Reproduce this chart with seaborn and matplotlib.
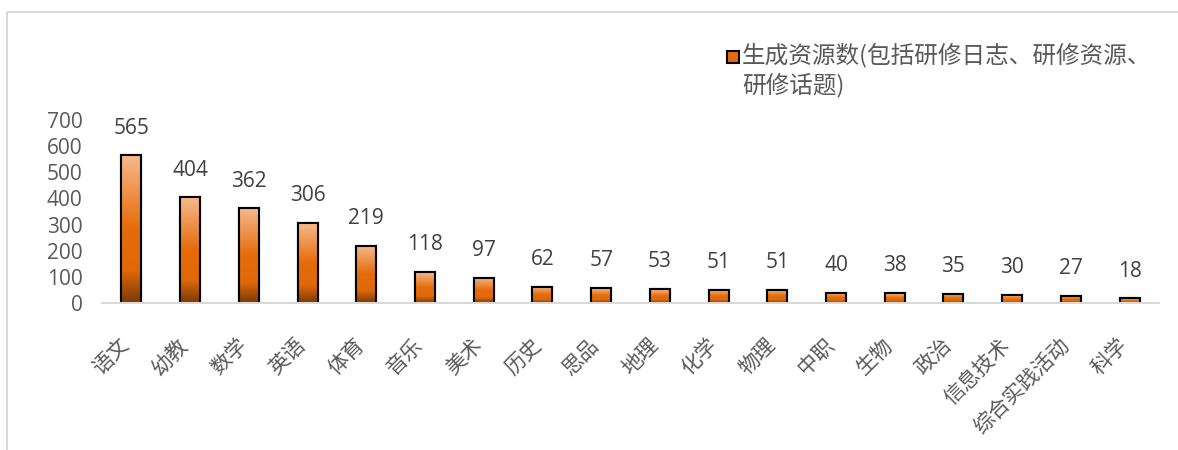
import numpy as np
import pandas as pd
import matplotlib
matplotlib.use("Agg")
import matplotlib.pyplot as plt
import matplotlib.transforms as mtransforms
import seaborn as sns
from matplotlib.colors import LinearSegmentedColormap
from matplotlib.lines import Line2D
from matplotlib.patches import Rectangle

categories = ["语文", "幼教", "数学", "英语", "体育", "音乐", "美术", "历史", "思品",
              "地理", "化学", "物理", "中职", "生物", "政治", "信息技术", "综合实践活动", "科学"]
values = [565, 404, 362, 306, 219, 118, 97, 62, 57, 53, 51, 51, 40, 38, 35, 30, 27, 18]
series_name = "生成资源数(包括研修日志、研修资源、\n研修话题)"
y_ticks = [0, 100, 200, 300, 400, 500, 600, 700]

sns.set_theme(style="white")
plt.rcParams["font.family"] = ["Noto Sans CJK SC", "DejaVu Sans"]

W, H = 1178, 450
fig = plt.figure(figsize=(W / 100, H / 100), dpi=100)

# axes: x from 102 to 1159 px, y (0 -> 303px, 700 -> 120px)
ax = fig.add_axes([102 / W, 1 - 303 / H, (1159 - 102) / W, (303 - 120) / H])

df = pd.DataFrame({"cat": categories, "val": values})
sns.barplot(data=df, x="cat", y="val", ax=ax, width=0.34, color="#E46C0A",
            edgecolor="black", linewidth=1.5, saturation=1)

cmap = LinearSegmentedColormap.from_list(
    "grad", [(0.0, "#F7B98C"), (0.5, "#E46C0A"), (0.78, "#E0680A"), (1.0, "#7A3A06")])
grad = np.linspace(0, 1, 256).reshape(-1, 1)
for p in list(ax.patches):
    x0, y0 = p.get_x(), p.get_y()
    w, h = p.get_width(), p.get_height()
    im = ax.imshow(grad, cmap=cmap, aspect="auto", extent=[x0, x0 + w, y0, y0 + h],
                   origin="upper", zorder=p.get_zorder() + 0.1)
    im.set_clip_path(p)
    edge = Rectangle((x0, y0), w, h, fill=False, edgecolor="black", linewidth=1.5,
                     zorder=p.get_zorder() + 0.2)
    ax.add_patch(edge)

ax.set_xlim(-0.5, len(categories) - 0.5)
ax.set_ylim(0, 700)
ax.set_yticks(y_ticks)
ax.set_yticklabels([str(t) for t in y_ticks], fontsize=15, color="#595959",
                   family=["Open Sans", "DejaVu Sans"])
ax.tick_params(axis="y", length=0, pad=14)
ax.set_xticks(range(len(categories)))
ax.set_xticklabels([])
ax.tick_params(axis="x", length=0)
ax.set_xlabel("")
ax.set_ylabel("")
for s in ["left", "right", "top"]:
    ax.spines[s].set_visible(False)
ax.spines["bottom"].set_color("#D9D9D9")
ax.spines["bottom"].set_linewidth(1.5)
ax.set_facecolor("none")

# rotated category labels
lab_tr = ax.get_xaxis_transform() + mtransforms.ScaledTranslation(-5 / 100, -39 / 100, fig.dpi_scale_trans)
for i, c in enumerate(categories):
    ax.text(i, 0, c, transform=lab_tr, rotation=45, rotation_mode="anchor",
            ha="right", va="center", fontsize=15, color="#595959")

for i, v in enumerate(values):
    ax.annotate(str(v), (i, v), xytext=(0, 12), textcoords="offset points",
                ha="center", va="bottom", fontsize=15, color="#404040",
                family=["Open Sans", "DejaVu Sans"], clip_on=False)

# legend (manual, marker aligned with the first line)
fig.add_artist(Rectangle((727 / W, 1 - 63 / H), 12 / W, 12 / H, transform=fig.transFigure,
                         facecolor="#E46C0A", edgecolor="black", linewidth=1.5))
fig.text(742 / W, 1 - 43 / H, series_name, ha="left", va="top", fontsize=17,
         color="#595959", linespacing=1.25)

# outer frame (left and top)
fig.add_artist(Line2D([7 / W, 7 / W], [0, 1 - 12 / H], transform=fig.transFigure,
                      color="#D9D9D9", linewidth=1.5))
fig.add_artist(Line2D([7 / W, 1], [1 - 12 / H, 1 - 12 / H], transform=fig.transFigure,
                      color="#D9D9D9", linewidth=1.5))

fig.savefig("out.png", dpi=100, facecolor="white")
